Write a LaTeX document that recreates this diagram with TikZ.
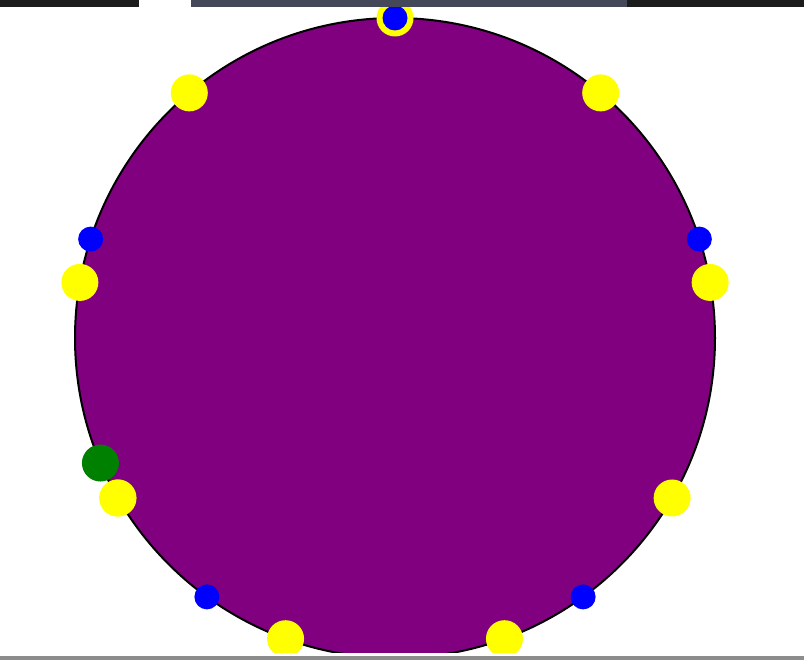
\documentclass[tikz,border=0pt]{standalone}
\usepackage{tikz}
\definecolor{ringfill}{HTML}{800080}
\definecolor{dotyellow}{HTML}{FFFF00}
\definecolor{dotblue}{HTML}{0000FF}
\definecolor{dotgreen}{HTML}{008000}
\definecolor{barblack}{HTML}{1C1C1C}
\definecolor{barslate}{HTML}{454858}
\definecolor{bargrey}{HTML}{8C8C8C}
\tikzset{
  dot/.style={circle,inner sep=0pt,draw=none},
  ydot/.style={dot,fill=dotyellow,minimum size=37pt},
  bdot/.style={dot,fill=dotblue,minimum size=25pt},
  gdot/.style={dot,fill=dotgreen,minimum size=37pt},
}

\begin{document}
\begin{tikzpicture}[x=1pt,y=-1pt]
  \useasboundingbox (0,0) rectangle (804,660);
  \fill[white] (0,0) rectangle (804,660);
  \begin{scope}
    \clip (0,7) rectangle (804,652);
    \node[circle,draw=black,line width=2pt,fill=ringfill,minimum size=640pt,inner sep=0pt] (ring) at (395,338) {};
    % yellow dots every 40 degrees
    \foreach \a [count=\i] in {0,40,...,320}
      \node[ydot] (y\i) at ({395+320*sin(\a)},{338-320*cos(\a)}) {};
    % blue dots every 72 degrees
    \foreach \a [count=\i] in {0,72,...,288}
      \node[bdot] (b\i) at ({395+320*sin(\a)},{338-320*cos(\a)}) {};
    \node[gdot] (g1) at ({395+320*sin(247)},{338-320*cos(247)}) {};
    \node[ydot] at (y7) {};
  \end{scope}
  % window bars
  \fill[barblack] (0,0) rectangle (139,7);
  \fill[white] (139,0) rectangle (191,7);
  \fill[barslate] (191,0) rectangle (627,7);
  \fill[barblack] (627,0) rectangle (804,7);
  \fill[bargrey] (0,656) rectangle (804,660);
\end{tikzpicture}
\end{document}
